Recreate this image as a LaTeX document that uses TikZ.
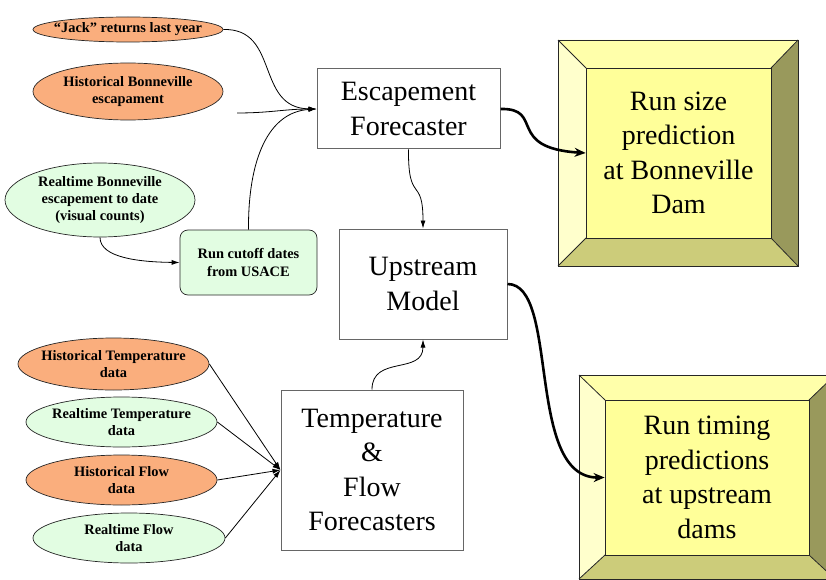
\documentclass[tikz,border=0pt]{standalone}
\usepackage{fontspec}
\setmainfont{Liberation Serif}
\usetikzlibrary{shapes.geometric,arrows.meta}
\definecolor{orangefill}{RGB}{250,174,125}
\definecolor{greenfill}{RGB}{226,253,226}
\definecolor{yinner}{RGB}{255,255,153}
\definecolor{yleft}{RGB}{255,255,204}
\definecolor{ytop}{RGB}{255,255,170}
\definecolor{ybottom}{RGB}{204,204,122}
\definecolor{yright}{RGB}{153,153,92}
\tikzset{
  inputell/.style={ellipse, draw=black!85, line width=0.7pt, inner sep=0pt},
  oell/.style={inputell, fill=orangefill},
  gell/.style={inputell, fill=greenfill},
  elltext/.style={align=center, inner sep=0pt, font=\fontsize{14.4}{17}\selectfont\bfseries},
  procbox/.style={draw=black!60, line width=1pt, fill=white, align=center, inner sep=0pt,
     font=\fontsize{28}{34.5}\selectfont},
  cutbox/.style={draw=black!85, line width=0.7pt, fill=greenfill, rounded corners=8pt, align=center,
     inner sep=0pt, font=\fontsize{14.4}{18}\selectfont\bfseries},
  resbox/.style={draw=black!85, line width=0.8pt, fill=yinner, align=center, inner sep=0pt,
     font=\fontsize{28}{34.5}\selectfont},
  bevel/.style={draw=black!85, line width=0.8pt},
  thin/.style={line width=0.8pt, -{Latex[length=8pt,width=5pt]}},
  thick/.style={line width=2.6pt, -{Stealth[length=11pt,width=9pt]}},
}
\begin{document}
\begin{tikzpicture}[x=1pt,y=-1pt]
\useasboundingbox (0,0) rectangle (826,580);
\clip (0,0) rectangle (826,580);

% input ellipses
\node[oell, minimum width=190pt, minimum height=25pt] (jack) at (128,29.5) {};
\node[elltext] (jackt) at (jack) {“Jack” returns last year};
\node[oell, minimum width=190pt, minimum height=57pt] (histbon) at (128,91.5) {};
\node[elltext] (histbont) at (histbon) {Historical Bonneville\\escapament};
\node[gell, minimum width=190pt, minimum height=74pt] (realbon) at (100,200) {};
\node[elltext] (realbont) at (realbon) {Realtime Bonneville\\escapement to date\\(visual counts)};
\node[cutbox, minimum width=137pt, minimum height=65pt] (cutoff) at (248.5,262.5) {Run cutoff dates\\from USACE};

\node[oell, minimum width=191pt, minimum height=52pt] (histtemp) at (113.5,364) {};
\node[elltext] (histtempt) at (histtemp) {Historical Temperature\\data};
\node[gell, minimum width=191pt, minimum height=50pt] (realtemp) at (121.5,422) {};
\node[elltext] (realtempt) at (realtemp) {Realtime Temperature\\data};
\node[oell, minimum width=191pt, minimum height=50pt] (histflow) at (121.5,480) {};
\node[elltext] (histflowt) at (histflow) {Historical Flow\\data};
\node[gell, minimum width=192pt, minimum height=50pt] (realflow) at (129,538) {};
\node[elltext] (realflowt) at (realflow) {Realtime Flow\\data};

% process boxes
\node[procbox, minimum width=183pt, minimum height=80pt] (esc) at (408.5,109) {Escapement\\Forecaster};
\node[procbox, minimum width=168pt, minimum height=110pt] (up) at (423,284) {Upstream\\Model};
\node[procbox, minimum width=182pt, minimum height=160pt] (tf) at (372,470) {Temperature\\\&\\Flow\\Forecasters};

% bevel box 1
\fill[yleft] (558,40) -- (586,68) -- (586,238) -- (558,266) -- cycle;
\fill[ytop] (558,40) -- (798,40) -- (771,68) -- (586,68) -- cycle;
\fill[yright] (798,40) -- (798,266) -- (771,238) -- (771,68) -- cycle;
\fill[ybottom] (558,266) -- (798,266) -- (771,238) -- (586,238) -- cycle;
\draw[bevel] (558,40) rectangle (798,266);
\draw[bevel] (558,40) -- (586,68) (798,40) -- (771,68) (798,266) -- (771,238) (558,266) -- (586,238);
\node[resbox, minimum width=185pt, minimum height=170pt] (res1) at (678.5,153) {Run size\\prediction\\at Bonneville\\Dam};

% bevel box 2
\fill[yleft] (579,375) -- (605,400) -- (605,555) -- (579,579) -- cycle;
\fill[ytop] (579,375) -- (835,375) -- (809,400) -- (605,400) -- cycle;
\fill[yright] (835,375) -- (835,579) -- (809,555) -- (809,400) -- cycle;
\fill[ybottom] (579,579) -- (835,579) -- (809,555) -- (605,555) -- cycle;
\draw[bevel] (579,375) rectangle (835,579);
\draw[bevel] (579,375) -- (605,400) (835,375) -- (809,400) (835,579) -- (809,555) (579,579) -- (605,555);
\node[resbox, minimum width=204pt, minimum height=155pt] (res2) at (707,477.5) {Run timing\\predictions\\at upstream\\dams};

% connectors
\coordinate (freeend) at (237,113);
\draw[thin] (jack.east) .. controls (280,28) and (255,108) .. (esc.west);
\draw[thin] (freeend) .. controls (270,113) and (285,109) .. (esc.west);
\draw[thin] (cutoff.north) .. controls (248,160) and (268,112) .. (esc.west);
\draw[thin] (realbon.south) .. controls (100,258) and (140,262) .. (cutoff.west);
\draw[thin] (esc.south) .. controls (408,205) and (423,175) .. (up.north);
\draw[thin] (tf.north) .. controls (372,355) and (423,375) .. (up.south);
\foreach \n in {histtemp,realtemp,histflow,realflow}
  \draw[thin] (\n.east) -- (tf.west);
\draw[thick] (esc.east) .. controls (545,108) and (505,148) .. (res1.west);
\draw[thick] (up.east) .. controls (560,284) and (525,478) .. (res2.west);
\end{tikzpicture}
\end{document}
